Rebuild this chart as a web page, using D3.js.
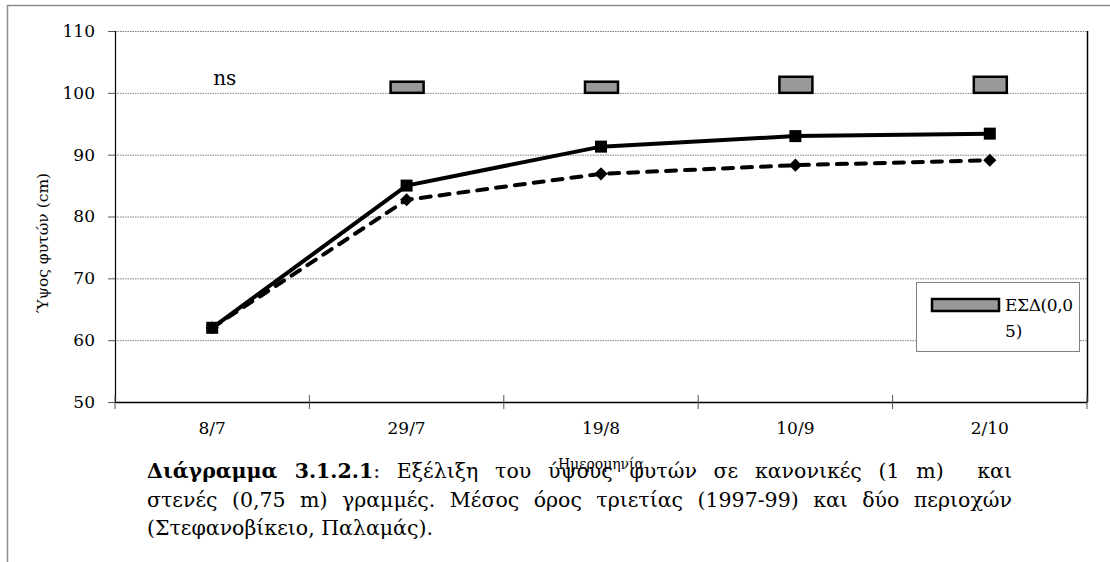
<!DOCTYPE html>
<html>
<head>
<meta charset="utf-8">
<script src="https://cdn.jsdelivr.net/npm/d3@7"></script>
<style>
  body { margin: 0; background: #fff; }
  svg text { font-family: "DejaVu Serif", "Liberation Serif", serif; fill: #000; }
  .grid line { stroke: #7f7f7f; stroke-dasharray: 1.5,1; }
  .grid path { display: none; }
</style>
</head>
<body>
<div id="chart"></div>
<script>
// data
var dates = ["8/7", "29/7", "19/8", "10/9", "2/10"];
var normalRows = [62.0, 85.0, 91.3, 93.0, 93.4];   // 1 m, solid line, squares
var narrowRows = [62.0, 82.7, 86.9, 88.3, 89.1];   // 0,75 m, dashed line, diamonds
var lsdBase = 100;
var lsdTop = [null, 101.8, 101.8, 102.6, 102.6];
var yTicks = [50, 60, 70, 80, 90, 100, 110];

var W = 1110, H = 562;
var margin = { top: 31, right: 23, bottom: 160, left: 115 },
  width = W - margin.left - margin.right,
  height = H - margin.top - margin.bottom;

var serif = "'DejaVu Serif', 'Liberation Serif', serif";

var root = d3.select("#chart").append("svg")
  .attr("width", W)
  .attr("height", H);

// outer frame (top and left only visible)
root.append("line").attr("x1", 7).attr("x2", W).attr("y1", 5.5).attr("y2", 5.5)
  .attr("stroke", "#8c8c8c").attr("stroke-width", 1.5);
root.append("line").attr("x1", 7.5).attr("x2", 7.5).attr("y1", 5).attr("y2", H)
  .attr("stroke", "#8c8c8c").attr("stroke-width", 1.5);

var svg = root.append("g")
  .attr("transform", "translate(" + margin.left + "," + margin.top + ")");

var x = d3.scaleBand().domain(dates).range([0, width]).padding(0);
var y = d3.scaleLinear().domain([50, 110]).range([height, 0]);
var cx = function (d, i) { return x(dates[i]) + x.bandwidth() / 2; };

// gridlines
svg.append("g")
  .attr("class", "grid")
  .call(d3.axisLeft(y).tickValues(yTicks.slice(1)).tickSize(-width).tickFormat(""));

// right border of plot area
svg.append("line")
  .attr("x1", width + 0.5).attr("x2", width + 0.5)
  .attr("y1", 0).attr("y2", height)
  .attr("stroke", "#000").attr("stroke-width", 1.5);

// y axis
var yAxis = svg.append("g")
  .call(d3.axisLeft(y).tickValues(yTicks).tickSize(7).tickPadding(13));
yAxis.attr("font-family", serif);
yAxis.select(".domain").attr("stroke", "#000").attr("stroke-width", 1.2);
yAxis.selectAll(".tick line").attr("stroke", "#555");
yAxis.selectAll("text").style("font-size", "17px").style("font-family", serif);

// x axis: labels centred in bands, ticks at band edges
var xAxis = svg.append("g")
  .attr("transform", "translate(0," + height + ")")
  .call(d3.axisBottom(x).tickSize(0).tickPadding(20));
xAxis.attr("font-family", serif);
xAxis.select(".domain").attr("stroke", "#000").attr("stroke-width", 1.5);
xAxis.selectAll("text").style("font-size", "17px").style("font-family", serif);

var edges = dates.map(function (d) { return x(d); }).concat([width]);
svg.append("g").selectAll("line")
  .data(edges)
  .enter()
  .append("line")
  .attr("x1", function (d) { return d; })
  .attr("x2", function (d) { return d; })
  .attr("y1", height - 7).attr("y2", height + 7)
  .attr("stroke", "#555");

// x axis title (sits under the caption)
svg.append("text")
  .attr("x", width / 2)
  .attr("y", height + 67)
  .style("text-anchor", "middle")
  .style("font-size", "14px")
  .text("Ημερομηνία");

// y axis title
svg.append("text")
  .attr("transform", "rotate(-90)")
  .attr("x", -212)
  .attr("y", -margin.left + 48)
  .style("text-anchor", "middle")
  .style("font-size", "15.5px")
  .text("Ύψος φυτών (cm)");

// LSD bars
var lsd = lsdTop.map(function (v, i) { return { v: v, i: i }; })
  .filter(function (d) { return d.v !== null; });
svg.append("g").selectAll("rect")
  .data(lsd)
  .enter()
  .append("rect")
  .attr("x", function (d) { return x(dates[d.i]) + x.bandwidth() / 2 - 16; })
  .attr("width", 33)
  .attr("y", function (d) { return y(d.v); })
  .attr("height", function (d) { return y(lsdBase) - y(d.v); })
  .attr("fill", "#999")
  .attr("stroke", "#000")
  .attr("stroke-width", 2.5);

svg.append("text")
  .attr("x", x(dates[0]) + x.bandwidth() / 2 + 1)
  .attr("y", y(lsdBase) - 8)
  .style("font-size", "20px")
  .text("ns");

// lines
var line = d3.line()
  .x(function (d, i) { return cx(d, i); })
  .y(function (d) { return y(d); });

svg.append("path")
  .datum(narrowRows)
  .attr("d", line)
  .attr("fill", "none")
  .attr("stroke", "#000")
  .attr("stroke-width", 4)
  .attr("stroke-linecap", "round")
  .attr("stroke-dasharray", "10,9");

svg.append("path")
  .datum(normalRows)
  .attr("d", line)
  .attr("fill", "none")
  .attr("stroke", "#000")
  .attr("stroke-width", 4);

// markers
svg.append("g").selectAll("path")
  .data(narrowRows)
  .enter()
  .append("path")
  .attr("d", d3.symbol(d3.symbolDiamond2, 110))
  .attr("transform", function (d, i) { return "translate(" + cx(d, i) + "," + y(d) + ")"; })
  .attr("fill", "#000");

svg.append("g").selectAll("rect")
  .data(normalRows)
  .enter()
  .append("rect")
  .attr("x", function (d, i) { return cx(d, i) - 6; })
  .attr("y", function (d) { return y(d) - 6; })
  .attr("width", 12).attr("height", 12)
  .attr("fill", "#000");

// legend
var lg = root.append("g");
lg.append("rect")
  .attr("x", 916.5).attr("y", 282.5).attr("width", 163).attr("height", 69)
  .attr("fill", "#fff").attr("stroke", "#808080");
lg.append("rect")
  .attr("x", 932).attr("y", 299).attr("width", 67).attr("height", 12)
  .attr("fill", "#999").attr("stroke", "#000").attr("stroke-width", 2.5);
lg.append("text").attr("x", 1005).attr("y", 311).style("font-size", "17px")
  .style("letter-spacing", "-0.4px").text("ΕΣΔ(0,0");
lg.append("text").attr("x", 1005).attr("y", 337).style("font-size", "17px").text("5)");

// caption, justified first two lines
var capX = 147, capRight = 1012;
var capLines = [
  { bold: "Διάγραμμα 3.1.2.1", rest: ": Εξέλιξη του ύψους φυτών σε κανονικές (1 m)  και", y: 478, justify: true },
  { bold: "", rest: "στενές (0,75 m) γραμμές. Μέσος όρος τριετίας (1997-99) και δύο περιοχών", y: 507, justify: true },
  { bold: "", rest: "(Στεφανοβίκειο, Παλαμάς).", y: 535, justify: false }
];
capLines.forEach(function (l) {
  var t = root.append("text")
    .attr("x", capX).attr("y", l.y)
    .style("font-size", "20.5px")
    .attr("xml:space", "preserve");
  if (l.bold) t.append("tspan").style("font-weight", "bold").text(l.bold);
  t.append("tspan").text(l.rest);
  if (l.justify) {
    var natural = t.node().getComputedTextLength();
    var spaces = (l.bold + l.rest).split(" ").length - 1;
    t.style("word-spacing", Math.max(0, (capRight - capX - natural) / spaces) + "px");
  }
});
</script>
</body>
</html>
